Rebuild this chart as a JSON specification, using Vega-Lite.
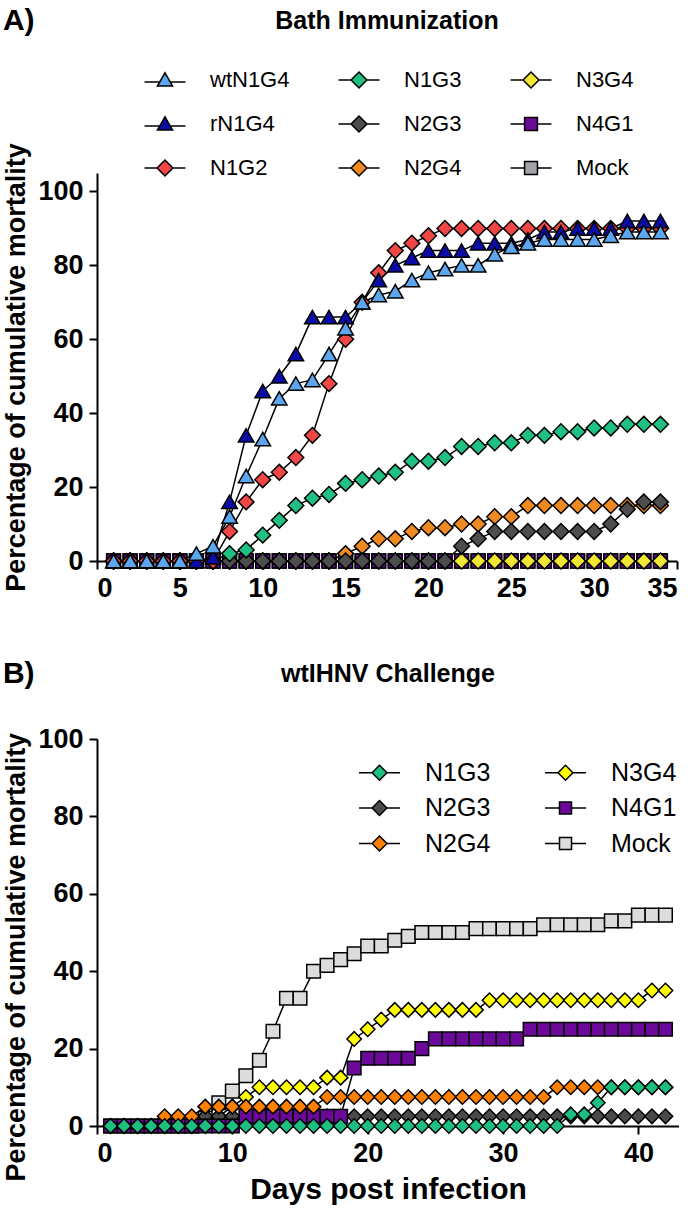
{
  "$schema": "https://vega.github.io/schema/vega-lite/v6.json",
  "padding": {"top": 6, "left": 2, "right": 0, "bottom": 2},
  "background": "white",
  "config": {
    "font": "Liberation Sans",
    "view": {"stroke": null},
    "axis": {"grid": false, "domainColor": "black", "domainWidth": 2, "tickColor": "black", "tickWidth": 2, "tickSize": 8,
      "labelFont": "Liberation Sans", "labelFontWeight": "bold", "labelFontSize": 27, "labelColor": "black", "labelPadding": 6,
      "titleFont": "Liberation Sans", "titleFontWeight": "bold", "titleFontSize": 27, "titleColor": "black"},
    "title": {"font": "Liberation Sans", "fontSize": 25, "fontWeight": "bold", "color": "black"},
    "legend": {"labelFont": "Liberation Sans", "labelColor": "black", "title": null, "symbolStrokeColor": "black", "symbolStrokeWidth": 1.5}
  },
  "datasets": {
    "a": [
      {"s":"Mock","d":1,"v":0},{"s":"Mock","d":2,"v":0},{"s":"Mock","d":3,"v":0},{"s":"Mock","d":4,"v":0},{"s":"Mock","d":5,"v":0},{"s":"Mock","d":6,"v":0},{"s":"Mock","d":7,"v":0},{"s":"Mock","d":8,"v":0},{"s":"Mock","d":9,"v":0},{"s":"Mock","d":10,"v":0},{"s":"Mock","d":11,"v":0},{"s":"Mock","d":12,"v":0},{"s":"Mock","d":13,"v":0},{"s":"Mock","d":14,"v":0},{"s":"Mock","d":15,"v":0},{"s":"Mock","d":16,"v":0},{"s":"Mock","d":17,"v":0},{"s":"Mock","d":18,"v":0},{"s":"Mock","d":19,"v":0},{"s":"Mock","d":20,"v":0},{"s":"Mock","d":21,"v":0},{"s":"Mock","d":22,"v":0},{"s":"Mock","d":23,"v":0},{"s":"Mock","d":24,"v":0},{"s":"Mock","d":25,"v":0},{"s":"Mock","d":26,"v":0},{"s":"Mock","d":27,"v":0},{"s":"Mock","d":28,"v":0},{"s":"Mock","d":29,"v":0},{"s":"Mock","d":30,"v":0},{"s":"Mock","d":31,"v":0},{"s":"Mock","d":32,"v":0},{"s":"Mock","d":33,"v":0},{"s":"Mock","d":34,"v":0},
      {"s":"N4G1","d":1,"v":0},{"s":"N4G1","d":2,"v":0},{"s":"N4G1","d":3,"v":0},{"s":"N4G1","d":4,"v":0},{"s":"N4G1","d":5,"v":0},{"s":"N4G1","d":6,"v":0},{"s":"N4G1","d":7,"v":0},{"s":"N4G1","d":8,"v":0},{"s":"N4G1","d":9,"v":0},{"s":"N4G1","d":10,"v":0},{"s":"N4G1","d":11,"v":0},{"s":"N4G1","d":12,"v":0},{"s":"N4G1","d":13,"v":0},{"s":"N4G1","d":14,"v":0},{"s":"N4G1","d":15,"v":0},{"s":"N4G1","d":16,"v":0},{"s":"N4G1","d":17,"v":0},{"s":"N4G1","d":18,"v":0},{"s":"N4G1","d":19,"v":0},{"s":"N4G1","d":20,"v":0},{"s":"N4G1","d":21,"v":0},{"s":"N4G1","d":22,"v":0},{"s":"N4G1","d":23,"v":0},{"s":"N4G1","d":24,"v":0},{"s":"N4G1","d":25,"v":0},{"s":"N4G1","d":26,"v":0},{"s":"N4G1","d":27,"v":0},{"s":"N4G1","d":28,"v":0},{"s":"N4G1","d":29,"v":0},{"s":"N4G1","d":30,"v":0},{"s":"N4G1","d":31,"v":0},{"s":"N4G1","d":32,"v":0},{"s":"N4G1","d":33,"v":0},{"s":"N4G1","d":34,"v":0},
      {"s":"N3G4","d":1,"v":0},{"s":"N3G4","d":2,"v":0},{"s":"N3G4","d":3,"v":0},{"s":"N3G4","d":4,"v":0},{"s":"N3G4","d":5,"v":0},{"s":"N3G4","d":6,"v":0},{"s":"N3G4","d":7,"v":0},{"s":"N3G4","d":8,"v":0},{"s":"N3G4","d":9,"v":0},{"s":"N3G4","d":10,"v":0},{"s":"N3G4","d":11,"v":0},{"s":"N3G4","d":12,"v":0},{"s":"N3G4","d":13,"v":0},{"s":"N3G4","d":14,"v":0},{"s":"N3G4","d":15,"v":0},{"s":"N3G4","d":16,"v":0},{"s":"N3G4","d":17,"v":0},{"s":"N3G4","d":18,"v":0},{"s":"N3G4","d":19,"v":0},{"s":"N3G4","d":20,"v":0},{"s":"N3G4","d":21,"v":0},{"s":"N3G4","d":22,"v":0},{"s":"N3G4","d":23,"v":0},{"s":"N3G4","d":24,"v":0},{"s":"N3G4","d":25,"v":0},{"s":"N3G4","d":26,"v":0},{"s":"N3G4","d":27,"v":0},{"s":"N3G4","d":28,"v":0},{"s":"N3G4","d":29,"v":0},{"s":"N3G4","d":30,"v":0},{"s":"N3G4","d":31,"v":0},{"s":"N3G4","d":32,"v":0},{"s":"N3G4","d":33,"v":0},{"s":"N3G4","d":34,"v":0},
      {"s":"N2G4","d":1,"v":0},{"s":"N2G4","d":2,"v":0},{"s":"N2G4","d":3,"v":0},{"s":"N2G4","d":4,"v":0},{"s":"N2G4","d":5,"v":0},{"s":"N2G4","d":6,"v":0},{"s":"N2G4","d":7,"v":0},{"s":"N2G4","d":8,"v":0},{"s":"N2G4","d":9,"v":0},{"s":"N2G4","d":10,"v":0},{"s":"N2G4","d":11,"v":0},{"s":"N2G4","d":12,"v":0},{"s":"N2G4","d":13,"v":0},{"s":"N2G4","d":14,"v":0},{"s":"N2G4","d":15,"v":2},{"s":"N2G4","d":16,"v":4},{"s":"N2G4","d":17,"v":6},{"s":"N2G4","d":18,"v":6},{"s":"N2G4","d":19,"v":8},{"s":"N2G4","d":20,"v":9},{"s":"N2G4","d":21,"v":9},{"s":"N2G4","d":22,"v":10},{"s":"N2G4","d":23,"v":10},{"s":"N2G4","d":24,"v":12},{"s":"N2G4","d":25,"v":12},{"s":"N2G4","d":26,"v":15},{"s":"N2G4","d":27,"v":15},{"s":"N2G4","d":28,"v":15},{"s":"N2G4","d":29,"v":15},{"s":"N2G4","d":30,"v":15},{"s":"N2G4","d":31,"v":15},{"s":"N2G4","d":32,"v":15},{"s":"N2G4","d":33,"v":15},{"s":"N2G4","d":34,"v":15},
      {"s":"N2G3","d":1,"v":0},{"s":"N2G3","d":2,"v":0},{"s":"N2G3","d":3,"v":0},{"s":"N2G3","d":4,"v":0},{"s":"N2G3","d":5,"v":0},{"s":"N2G3","d":6,"v":0},{"s":"N2G3","d":7,"v":0},{"s":"N2G3","d":8,"v":0},{"s":"N2G3","d":9,"v":0},{"s":"N2G3","d":10,"v":0},{"s":"N2G3","d":11,"v":0},{"s":"N2G3","d":12,"v":0},{"s":"N2G3","d":13,"v":0},{"s":"N2G3","d":14,"v":0},{"s":"N2G3","d":15,"v":0},{"s":"N2G3","d":16,"v":0},{"s":"N2G3","d":17,"v":0},{"s":"N2G3","d":18,"v":0},{"s":"N2G3","d":19,"v":0},{"s":"N2G3","d":20,"v":0},{"s":"N2G3","d":21,"v":0},{"s":"N2G3","d":22,"v":4},{"s":"N2G3","d":23,"v":6},{"s":"N2G3","d":24,"v":8},{"s":"N2G3","d":25,"v":8},{"s":"N2G3","d":26,"v":8},{"s":"N2G3","d":27,"v":8},{"s":"N2G3","d":28,"v":8},{"s":"N2G3","d":29,"v":8},{"s":"N2G3","d":30,"v":8},{"s":"N2G3","d":31,"v":10},{"s":"N2G3","d":32,"v":14},{"s":"N2G3","d":33,"v":16},{"s":"N2G3","d":34,"v":16},
      {"s":"N1G3","d":1,"v":0},{"s":"N1G3","d":2,"v":0},{"s":"N1G3","d":3,"v":0},{"s":"N1G3","d":4,"v":0},{"s":"N1G3","d":5,"v":0},{"s":"N1G3","d":6,"v":0},{"s":"N1G3","d":7,"v":0},{"s":"N1G3","d":8,"v":2},{"s":"N1G3","d":9,"v":3},{"s":"N1G3","d":10,"v":7},{"s":"N1G3","d":11,"v":11},{"s":"N1G3","d":12,"v":15},{"s":"N1G3","d":13,"v":17},{"s":"N1G3","d":14,"v":18},{"s":"N1G3","d":15,"v":21},{"s":"N1G3","d":16,"v":22},{"s":"N1G3","d":17,"v":23},{"s":"N1G3","d":18,"v":24},{"s":"N1G3","d":19,"v":27},{"s":"N1G3","d":20,"v":27},{"s":"N1G3","d":21,"v":28},{"s":"N1G3","d":22,"v":31},{"s":"N1G3","d":23,"v":31},{"s":"N1G3","d":24,"v":32},{"s":"N1G3","d":25,"v":32},{"s":"N1G3","d":26,"v":34},{"s":"N1G3","d":27,"v":34},{"s":"N1G3","d":28,"v":35},{"s":"N1G3","d":29,"v":35},{"s":"N1G3","d":30,"v":36},{"s":"N1G3","d":31,"v":36},{"s":"N1G3","d":32,"v":37},{"s":"N1G3","d":33,"v":37},{"s":"N1G3","d":34,"v":37},
      {"s":"N1G2","d":1,"v":0},{"s":"N1G2","d":2,"v":0},{"s":"N1G2","d":3,"v":0},{"s":"N1G2","d":4,"v":0},{"s":"N1G2","d":5,"v":0},{"s":"N1G2","d":6,"v":0},{"s":"N1G2","d":7,"v":0},{"s":"N1G2","d":8,"v":8},{"s":"N1G2","d":9,"v":16},{"s":"N1G2","d":10,"v":22},{"s":"N1G2","d":11,"v":24},{"s":"N1G2","d":12,"v":28},{"s":"N1G2","d":13,"v":34},{"s":"N1G2","d":14,"v":48},{"s":"N1G2","d":15,"v":60},{"s":"N1G2","d":16,"v":70},{"s":"N1G2","d":17,"v":78},{"s":"N1G2","d":18,"v":84},{"s":"N1G2","d":19,"v":86},{"s":"N1G2","d":20,"v":88},{"s":"N1G2","d":21,"v":90},{"s":"N1G2","d":22,"v":90},{"s":"N1G2","d":23,"v":90},{"s":"N1G2","d":24,"v":90},{"s":"N1G2","d":25,"v":90},{"s":"N1G2","d":26,"v":90},{"s":"N1G2","d":27,"v":90},{"s":"N1G2","d":28,"v":90},{"s":"N1G2","d":29,"v":90},{"s":"N1G2","d":30,"v":90},{"s":"N1G2","d":31,"v":90},{"s":"N1G2","d":32,"v":90},{"s":"N1G2","d":33,"v":90},{"s":"N1G2","d":34,"v":90},
      {"s":"rN1G4","d":1,"v":0},{"s":"rN1G4","d":2,"v":0},{"s":"rN1G4","d":3,"v":0},{"s":"rN1G4","d":4,"v":0},{"s":"rN1G4","d":5,"v":0},{"s":"rN1G4","d":6,"v":0},{"s":"rN1G4","d":7,"v":1},{"s":"rN1G4","d":8,"v":16},{"s":"rN1G4","d":9,"v":34},{"s":"rN1G4","d":10,"v":46},{"s":"rN1G4","d":11,"v":50},{"s":"rN1G4","d":12,"v":56},{"s":"rN1G4","d":13,"v":66},{"s":"rN1G4","d":14,"v":66},{"s":"rN1G4","d":15,"v":66},{"s":"rN1G4","d":16,"v":70},{"s":"rN1G4","d":17,"v":76},{"s":"rN1G4","d":18,"v":80},{"s":"rN1G4","d":19,"v":82},{"s":"rN1G4","d":20,"v":84},{"s":"rN1G4","d":21,"v":84},{"s":"rN1G4","d":22,"v":84},{"s":"rN1G4","d":23,"v":86},{"s":"rN1G4","d":24,"v":86},{"s":"rN1G4","d":25,"v":86},{"s":"rN1G4","d":26,"v":87},{"s":"rN1G4","d":27,"v":89},{"s":"rN1G4","d":28,"v":89},{"s":"rN1G4","d":29,"v":90},{"s":"rN1G4","d":30,"v":90},{"s":"rN1G4","d":31,"v":90},{"s":"rN1G4","d":32,"v":92},{"s":"rN1G4","d":33,"v":92},{"s":"rN1G4","d":34,"v":92},
      {"s":"wtN1G4","d":1,"v":0},{"s":"wtN1G4","d":2,"v":0},{"s":"wtN1G4","d":3,"v":0},{"s":"wtN1G4","d":4,"v":0},{"s":"wtN1G4","d":5,"v":0},{"s":"wtN1G4","d":6,"v":2},{"s":"wtN1G4","d":7,"v":4},{"s":"wtN1G4","d":8,"v":12},{"s":"wtN1G4","d":9,"v":23},{"s":"wtN1G4","d":10,"v":33},{"s":"wtN1G4","d":11,"v":44},{"s":"wtN1G4","d":12,"v":48},{"s":"wtN1G4","d":13,"v":49},{"s":"wtN1G4","d":14,"v":56},{"s":"wtN1G4","d":15,"v":63},{"s":"wtN1G4","d":16,"v":70},{"s":"wtN1G4","d":17,"v":72},{"s":"wtN1G4","d":18,"v":73},{"s":"wtN1G4","d":19,"v":76},{"s":"wtN1G4","d":20,"v":78},{"s":"wtN1G4","d":21,"v":79},{"s":"wtN1G4","d":22,"v":80},{"s":"wtN1G4","d":23,"v":80},{"s":"wtN1G4","d":24,"v":83},{"s":"wtN1G4","d":25,"v":85},{"s":"wtN1G4","d":26,"v":86},{"s":"wtN1G4","d":27,"v":87},{"s":"wtN1G4","d":28,"v":87},{"s":"wtN1G4","d":29,"v":87},{"s":"wtN1G4","d":30,"v":87},{"s":"wtN1G4","d":31,"v":88},{"s":"wtN1G4","d":32,"v":89},{"s":"wtN1G4","d":33,"v":89},{"s":"wtN1G4","d":34,"v":89}
    ],
    "b": [
      {"s":"Mock","d":1,"v":0},{"s":"Mock","d":2,"v":0},{"s":"Mock","d":3,"v":0},{"s":"Mock","d":4,"v":0},{"s":"Mock","d":5,"v":0},{"s":"Mock","d":6,"v":0},{"s":"Mock","d":7,"v":0},{"s":"Mock","d":8,"v":2},{"s":"Mock","d":9,"v":6},{"s":"Mock","d":10,"v":9},{"s":"Mock","d":11,"v":13},{"s":"Mock","d":12,"v":17},{"s":"Mock","d":13,"v":24.5},{"s":"Mock","d":14,"v":33},{"s":"Mock","d":15,"v":33},{"s":"Mock","d":16,"v":40},{"s":"Mock","d":17,"v":41.5},{"s":"Mock","d":18,"v":43},{"s":"Mock","d":19,"v":44.5},{"s":"Mock","d":20,"v":46.5},{"s":"Mock","d":21,"v":46.5},{"s":"Mock","d":22,"v":48},{"s":"Mock","d":23,"v":49},{"s":"Mock","d":24,"v":50},{"s":"Mock","d":25,"v":50},{"s":"Mock","d":26,"v":50},{"s":"Mock","d":27,"v":50},{"s":"Mock","d":28,"v":51},{"s":"Mock","d":29,"v":51},{"s":"Mock","d":30,"v":51},{"s":"Mock","d":31,"v":51},{"s":"Mock","d":32,"v":51},{"s":"Mock","d":33,"v":52},{"s":"Mock","d":34,"v":52},{"s":"Mock","d":35,"v":52},{"s":"Mock","d":36,"v":52},{"s":"Mock","d":37,"v":52},{"s":"Mock","d":38,"v":53},{"s":"Mock","d":39,"v":53},{"s":"Mock","d":40,"v":54.5},{"s":"Mock","d":41,"v":54.5},{"s":"Mock","d":42,"v":54.5},
      {"s":"N3G4","d":1,"v":0},{"s":"N3G4","d":2,"v":0},{"s":"N3G4","d":3,"v":0},{"s":"N3G4","d":4,"v":0},{"s":"N3G4","d":5,"v":0},{"s":"N3G4","d":6,"v":0},{"s":"N3G4","d":7,"v":0},{"s":"N3G4","d":8,"v":0},{"s":"N3G4","d":9,"v":2.5},{"s":"N3G4","d":10,"v":5},{"s":"N3G4","d":11,"v":7.5},{"s":"N3G4","d":12,"v":10},{"s":"N3G4","d":13,"v":10},{"s":"N3G4","d":14,"v":10},{"s":"N3G4","d":15,"v":10},{"s":"N3G4","d":16,"v":10},{"s":"N3G4","d":17,"v":12.5},{"s":"N3G4","d":18,"v":12.5},{"s":"N3G4","d":19,"v":22.5},{"s":"N3G4","d":20,"v":25},{"s":"N3G4","d":21,"v":27.5},{"s":"N3G4","d":22,"v":30},{"s":"N3G4","d":23,"v":30},{"s":"N3G4","d":24,"v":30},{"s":"N3G4","d":25,"v":30},{"s":"N3G4","d":26,"v":30},{"s":"N3G4","d":27,"v":30},{"s":"N3G4","d":28,"v":30},{"s":"N3G4","d":29,"v":32.5},{"s":"N3G4","d":30,"v":32.5},{"s":"N3G4","d":31,"v":32.5},{"s":"N3G4","d":32,"v":32.5},{"s":"N3G4","d":33,"v":32.5},{"s":"N3G4","d":34,"v":32.5},{"s":"N3G4","d":35,"v":32.5},{"s":"N3G4","d":36,"v":32.5},{"s":"N3G4","d":37,"v":32.5},{"s":"N3G4","d":38,"v":32.5},{"s":"N3G4","d":39,"v":32.5},{"s":"N3G4","d":40,"v":32.5},{"s":"N3G4","d":41,"v":35},{"s":"N3G4","d":42,"v":35},
      {"s":"N2G3","d":1,"v":0},{"s":"N2G3","d":2,"v":0},{"s":"N2G3","d":3,"v":0},{"s":"N2G3","d":4,"v":0},{"s":"N2G3","d":5,"v":0},{"s":"N2G3","d":6,"v":0},{"s":"N2G3","d":7,"v":0},{"s":"N2G3","d":8,"v":2.5},{"s":"N2G3","d":9,"v":2.5},{"s":"N2G3","d":10,"v":2.5},{"s":"N2G3","d":11,"v":2.5},{"s":"N2G3","d":12,"v":2.5},{"s":"N2G3","d":13,"v":2.5},{"s":"N2G3","d":14,"v":2.5},{"s":"N2G3","d":15,"v":2.5},{"s":"N2G3","d":16,"v":2.5},{"s":"N2G3","d":17,"v":2.5},{"s":"N2G3","d":18,"v":2.5},{"s":"N2G3","d":19,"v":2.5},{"s":"N2G3","d":20,"v":2.5},{"s":"N2G3","d":21,"v":2.5},{"s":"N2G3","d":22,"v":2.5},{"s":"N2G3","d":23,"v":2.5},{"s":"N2G3","d":24,"v":2.5},{"s":"N2G3","d":25,"v":2.5},{"s":"N2G3","d":26,"v":2.5},{"s":"N2G3","d":27,"v":2.5},{"s":"N2G3","d":28,"v":2.5},{"s":"N2G3","d":29,"v":2.5},{"s":"N2G3","d":30,"v":2.5},{"s":"N2G3","d":31,"v":2.5},{"s":"N2G3","d":32,"v":2.5},{"s":"N2G3","d":33,"v":2.5},{"s":"N2G3","d":34,"v":2.5},{"s":"N2G3","d":35,"v":2.5},{"s":"N2G3","d":36,"v":2.5},{"s":"N2G3","d":37,"v":2.5},{"s":"N2G3","d":38,"v":2.5},{"s":"N2G3","d":39,"v":2.5},{"s":"N2G3","d":40,"v":2.5},{"s":"N2G3","d":41,"v":2.5},{"s":"N2G3","d":42,"v":2.5},
      {"s":"N4G1","d":1,"v":0},{"s":"N4G1","d":2,"v":0},{"s":"N4G1","d":3,"v":0},{"s":"N4G1","d":4,"v":0},{"s":"N4G1","d":5,"v":0},{"s":"N4G1","d":6,"v":0},{"s":"N4G1","d":7,"v":0},{"s":"N4G1","d":8,"v":0},{"s":"N4G1","d":9,"v":0},{"s":"N4G1","d":10,"v":0},{"s":"N4G1","d":11,"v":2.5},{"s":"N4G1","d":12,"v":2.5},{"s":"N4G1","d":13,"v":2.5},{"s":"N4G1","d":14,"v":2.5},{"s":"N4G1","d":15,"v":2.5},{"s":"N4G1","d":16,"v":2.5},{"s":"N4G1","d":17,"v":2.5},{"s":"N4G1","d":18,"v":2.5},{"s":"N4G1","d":19,"v":15},{"s":"N4G1","d":20,"v":17.5},{"s":"N4G1","d":21,"v":17.5},{"s":"N4G1","d":22,"v":17.5},{"s":"N4G1","d":23,"v":17.5},{"s":"N4G1","d":24,"v":20},{"s":"N4G1","d":25,"v":22.5},{"s":"N4G1","d":26,"v":22.5},{"s":"N4G1","d":27,"v":22.5},{"s":"N4G1","d":28,"v":22.5},{"s":"N4G1","d":29,"v":22.5},{"s":"N4G1","d":30,"v":22.5},{"s":"N4G1","d":31,"v":22.5},{"s":"N4G1","d":32,"v":25},{"s":"N4G1","d":33,"v":25},{"s":"N4G1","d":34,"v":25},{"s":"N4G1","d":35,"v":25},{"s":"N4G1","d":36,"v":25},{"s":"N4G1","d":37,"v":25},{"s":"N4G1","d":38,"v":25},{"s":"N4G1","d":39,"v":25},{"s":"N4G1","d":40,"v":25},{"s":"N4G1","d":41,"v":25},{"s":"N4G1","d":42,"v":25},
      {"s":"N2G4","d":1,"v":0},{"s":"N2G4","d":2,"v":0},{"s":"N2G4","d":3,"v":0},{"s":"N2G4","d":4,"v":0},{"s":"N2G4","d":5,"v":2.5},{"s":"N2G4","d":6,"v":2.5},{"s":"N2G4","d":7,"v":2.5},{"s":"N2G4","d":8,"v":5},{"s":"N2G4","d":9,"v":5},{"s":"N2G4","d":10,"v":5},{"s":"N2G4","d":11,"v":5},{"s":"N2G4","d":12,"v":5},{"s":"N2G4","d":13,"v":5},{"s":"N2G4","d":14,"v":5},{"s":"N2G4","d":15,"v":5},{"s":"N2G4","d":16,"v":5},{"s":"N2G4","d":17,"v":7.5},{"s":"N2G4","d":18,"v":7.5},{"s":"N2G4","d":19,"v":7.5},{"s":"N2G4","d":20,"v":7.5},{"s":"N2G4","d":21,"v":7.5},{"s":"N2G4","d":22,"v":7.5},{"s":"N2G4","d":23,"v":7.5},{"s":"N2G4","d":24,"v":7.5},{"s":"N2G4","d":25,"v":7.5},{"s":"N2G4","d":26,"v":7.5},{"s":"N2G4","d":27,"v":7.5},{"s":"N2G4","d":28,"v":7.5},{"s":"N2G4","d":29,"v":7.5},{"s":"N2G4","d":30,"v":7.5},{"s":"N2G4","d":31,"v":7.5},{"s":"N2G4","d":32,"v":7.5},{"s":"N2G4","d":33,"v":7.5},{"s":"N2G4","d":34,"v":10},{"s":"N2G4","d":35,"v":10},{"s":"N2G4","d":36,"v":10},{"s":"N2G4","d":37,"v":10},{"s":"N2G4","d":38,"v":10},{"s":"N2G4","d":39,"v":10},{"s":"N2G4","d":40,"v":10},{"s":"N2G4","d":41,"v":10},{"s":"N2G4","d":42,"v":10},
      {"s":"N1G3","d":1,"v":0},{"s":"N1G3","d":2,"v":0},{"s":"N1G3","d":3,"v":0},{"s":"N1G3","d":4,"v":0},{"s":"N1G3","d":5,"v":0},{"s":"N1G3","d":6,"v":0},{"s":"N1G3","d":7,"v":0},{"s":"N1G3","d":8,"v":0},{"s":"N1G3","d":9,"v":0},{"s":"N1G3","d":10,"v":0},{"s":"N1G3","d":11,"v":0},{"s":"N1G3","d":12,"v":0},{"s":"N1G3","d":13,"v":0},{"s":"N1G3","d":14,"v":0},{"s":"N1G3","d":15,"v":0},{"s":"N1G3","d":16,"v":0},{"s":"N1G3","d":17,"v":0},{"s":"N1G3","d":18,"v":0},{"s":"N1G3","d":19,"v":0},{"s":"N1G3","d":20,"v":0},{"s":"N1G3","d":21,"v":0},{"s":"N1G3","d":22,"v":0},{"s":"N1G3","d":23,"v":0},{"s":"N1G3","d":24,"v":0},{"s":"N1G3","d":25,"v":0},{"s":"N1G3","d":26,"v":0},{"s":"N1G3","d":27,"v":0},{"s":"N1G3","d":28,"v":0},{"s":"N1G3","d":29,"v":0},{"s":"N1G3","d":30,"v":0},{"s":"N1G3","d":31,"v":0},{"s":"N1G3","d":32,"v":0},{"s":"N1G3","d":33,"v":0},{"s":"N1G3","d":34,"v":0},{"s":"N1G3","d":35,"v":3},{"s":"N1G3","d":36,"v":3},{"s":"N1G3","d":37,"v":6},{"s":"N1G3","d":38,"v":10},{"s":"N1G3","d":39,"v":10},{"s":"N1G3","d":40,"v":10},{"s":"N1G3","d":41,"v":10},{"s":"N1G3","d":42,"v":10}
    ]
  },
  "spacing": 58,
  "vconcat": [
    {
      "title": {"text": "A)", "anchor": "start", "frame": "bounds", "fontSize": 30, "offset": -27},
      "vconcat": [
        {
          "width": 580, "height": 388,
          "title": {"text": "Bath Immunization", "offset": 35},
          "data": {"name": "a"},
          "encoding": {
            "x": {"field": "d", "type": "quantitative", "scale": {"domain": [0, 35], "nice": false, "zero": false}, "axis": {"values": [0, 5, 10, 15, 20, 25, 30, 35], "title": null}},
            "y": {"field": "v", "type": "quantitative", "scale": {"domain": [0, 105], "nice": false}, "axis": {"values": [0, 20, 40, 60, 80, 100], "title": "Percentage of cumulative mortality", "titlePadding": 7}}
          },
          "layer": [
            {"mark": {"type": "line", "color": "black", "strokeWidth": 1.5}, "encoding": {"detail": {"field": "s"}}},
            {"transform": [{"filter": {"field": "s", "oneOf": ["Mock", "N4G1"]}}],
             "mark": {"type": "point", "shape": "square", "size": 190, "filled": true, "opacity": 1, "stroke": "black", "strokeWidth": 1.5},
             "encoding": {"color": {"field": "s", "type": "nominal", "legend": null, "scale": {"domain": ["wtN1G4", "rN1G4", "N1G2", "N1G3", "N2G3", "N2G4", "N3G4", "N4G1", "Mock"], "range": ["#5ba6ee", "#0b0ba6", "#f04646", "#20c082", "#4d4d4d", "#ef8a22", "#eee734", "#6a0a98", "#a2a2a8"]}}}},
            {"transform": [{"filter": {"field": "s", "oneOf": ["N3G4", "N2G4", "N2G3", "N1G3", "N1G2"]}}],
             "mark": {"type": "point", "shape": "diamond", "size": 250, "filled": true, "opacity": 1, "stroke": "black", "strokeWidth": 1.5},
             "encoding": {"color": {"field": "s", "type": "nominal", "legend": null, "scale": {"domain": ["wtN1G4", "rN1G4", "N1G2", "N1G3", "N2G3", "N2G4", "N3G4", "N4G1", "Mock"], "range": ["#5ba6ee", "#0b0ba6", "#f04646", "#20c082", "#4d4d4d", "#ef8a22", "#eee734", "#6a0a98", "#a2a2a8"]}}}},
            {"transform": [{"filter": {"field": "s", "oneOf": ["rN1G4", "wtN1G4"]}}],
             "mark": {"type": "point", "shape": "triangle-up", "size": 240, "filled": true, "opacity": 1, "stroke": "black", "strokeWidth": 1.5},
             "encoding": {"color": {"field": "s", "type": "nominal", "legend": null, "scale": {"domain": ["wtN1G4", "rN1G4", "N1G2", "N1G3", "N2G3", "N2G4", "N3G4", "N4G1", "Mock"], "range": ["#5ba6ee", "#0b0ba6", "#f04646", "#20c082", "#4d4d4d", "#ef8a22", "#eee734", "#6a0a98", "#a2a2a8"]}}}},
            {"mark": {"type": "point", "filled": true, "opacity": 0, "strokeWidth": 1.5},
             "encoding": {
               "shape": {"field": "s", "type": "nominal",
                 "scale": {"domain": ["wtN1G4", "rN1G4", "N1G2", "N1G3", "N2G3", "N2G4", "N3G4", "N4G1", "Mock"],
                   "range": ["M-2.7,0.25L-0.69,0.25M0.69,0.25L2.7,0.25M0,-0.95L1,0.8L-1,0.8Z", "M-2.7,0.25L-0.69,0.25M0.69,0.25L2.7,0.25M0,-0.95L1,0.8L-1,0.8Z", "M-2.7,0L-1.05,0M1.05,0L2.7,0M0,-1.05L1.05,0L0,1.05L-1.05,0Z", "M-2.7,0L-1.05,0M1.05,0L2.7,0M0,-1.05L1.05,0L0,1.05L-1.05,0Z", "M-2.7,0L-1.05,0M1.05,0L2.7,0M0,-1.05L1.05,0L0,1.05L-1.05,0Z", "M-2.7,0L-1.05,0M1.05,0L2.7,0M0,-1.05L1.05,0L0,1.05L-1.05,0Z", "M-2.7,0L-1.05,0M1.05,0L2.7,0M0,-1.05L1.05,0L0,1.05L-1.05,0Z", "M-2.7,0L-0.85,0M0.85,0L2.7,0M-0.85,-0.85L0.85,-0.85L0.85,0.85L-0.85,0.85Z", "M-2.7,0L-0.85,0M0.85,0L2.7,0M-0.85,-0.85L0.85,-0.85L0.85,0.85L-0.85,0.85Z"]},
                 "legend": {"orient": "none", "legendX": 57, "legendY": -104, "columns": 3, "title": null, "symbolSize": 230, "symbolStrokeWidth": 1.5, "symbolOpacity": 1, "labelFontSize": 22, "labelOffset": 34, "columnPadding": 45, "rowPadding": 22, "labelLimit": 300}},
               "fill": {"field": "s", "type": "nominal",
                 "scale": {"domain": ["wtN1G4", "rN1G4", "N1G2", "N1G3", "N2G3", "N2G4", "N3G4", "N4G1", "Mock"],
                   "range": ["#5ba6ee", "#0b0ba6", "#f04646", "#20c082", "#4d4d4d", "#ef8a22", "#eee734", "#6a0a98", "#a2a2a8"]},
                 "legend": {"orient": "none", "legendX": 57, "legendY": -104, "columns": 3, "title": null, "symbolSize": 230, "symbolStrokeWidth": 1.5, "symbolOpacity": 1, "labelFontSize": 22, "labelOffset": 34, "columnPadding": 45, "rowPadding": 22, "labelLimit": 300}},
               "stroke": {"field": "s", "type": "nominal",
                 "scale": {"domain": ["wtN1G4", "rN1G4", "N1G2", "N1G3", "N2G3", "N2G4", "N3G4", "N4G1", "Mock"],
                   "range": ["black", "black", "black", "black", "black", "black", "black", "black", "black"]},
                 "legend": {"orient": "none", "legendX": 57, "legendY": -104, "columns": 3, "title": null, "symbolSize": 230, "symbolStrokeWidth": 1.5, "symbolOpacity": 1, "labelFontSize": 22, "labelOffset": 34, "columnPadding": 45, "rowPadding": 22, "labelLimit": 300}}
             }}
          ],
          "resolve": {"scale": {"color": "independent", "fill": "independent", "shape": "independent", "stroke": "independent"}}
        }
      ]
    },
    {
      "title": {"text": "B)", "anchor": "start", "frame": "bounds", "fontSize": 30, "offset": -27},
      "vconcat": [
        {
          "width": 582, "height": 387,
          "title": {"text": "wtIHNV Challenge", "offset": 38},
          "data": {"name": "b"},
          "encoding": {
            "x": {"field": "d", "type": "quantitative", "scale": {"domain": [0, 43], "nice": false, "zero": false}, "axis": {"values": [0, 10, 20, 30, 40], "title": "Days post infection", "titleFontSize": 30, "titlePadding": 8}},
            "y": {"field": "v", "type": "quantitative", "scale": {"domain": [0, 100], "nice": false}, "axis": {"values": [0, 20, 40, 60, 80, 100], "title": "Percentage of cumulative mortality", "titlePadding": 7, "titleY": 442, "titleAlign": "left"}}
          },
          "layer": [
            {"mark": {"type": "line", "color": "black", "strokeWidth": 1.5}, "encoding": {"detail": {"field": "s"}}},
            {"transform": [{"filter": {"field": "s", "oneOf": ["Mock"]}}],
             "mark": {"type": "point", "shape": "square", "size": 185, "filled": true, "opacity": 1, "stroke": "black", "strokeWidth": 1.5},
             "encoding": {"color": {"field": "s", "type": "nominal", "legend": null, "scale": {"domain": ["N1G3", "N2G3", "N2G4", "N3G4", "N4G1", "Mock"], "range": ["#1dbf80", "#4a4a4a", "#ff7f00", "#ffff00", "#6b0a9a", "#dcdcdc"]}}}},
            {"transform": [{"filter": {"field": "s", "oneOf": ["N3G4", "N2G3"]}}],
             "mark": {"type": "point", "shape": "diamond", "size": 210, "filled": true, "opacity": 1, "stroke": "black", "strokeWidth": 1.5},
             "encoding": {"color": {"field": "s", "type": "nominal", "legend": null, "scale": {"domain": ["N1G3", "N2G3", "N2G4", "N3G4", "N4G1", "Mock"], "range": ["#1dbf80", "#4a4a4a", "#ff7f00", "#ffff00", "#6b0a9a", "#dcdcdc"]}}}},
            {"transform": [{"filter": {"field": "s", "oneOf": ["N4G1"]}}],
             "mark": {"type": "point", "shape": "square", "size": 185, "filled": true, "opacity": 1, "stroke": "black", "strokeWidth": 1.5},
             "encoding": {"color": {"field": "s", "type": "nominal", "legend": null, "scale": {"domain": ["N1G3", "N2G3", "N2G4", "N3G4", "N4G1", "Mock"], "range": ["#1dbf80", "#4a4a4a", "#ff7f00", "#ffff00", "#6b0a9a", "#dcdcdc"]}}}},
            {"transform": [{"filter": {"field": "s", "oneOf": ["N2G4", "N1G3"]}}],
             "mark": {"type": "point", "shape": "diamond", "size": 210, "filled": true, "opacity": 1, "stroke": "black", "strokeWidth": 1.5},
             "encoding": {"color": {"field": "s", "type": "nominal", "legend": null, "scale": {"domain": ["N1G3", "N2G3", "N2G4", "N3G4", "N4G1", "Mock"], "range": ["#1dbf80", "#4a4a4a", "#ff7f00", "#ffff00", "#6b0a9a", "#dcdcdc"]}}}},
            {"mark": {"type": "point", "filled": true, "opacity": 0, "strokeWidth": 1.5},
             "encoding": {
               "shape": {"field": "s", "type": "nominal",
                 "scale": {"domain": ["N1G3", "N2G3", "N2G4", "N3G4", "N4G1", "Mock"],
                   "range": ["M-2.9,0L-1.05,0M1.05,0L2.9,0M0,-1.05L1.05,0L0,1.05L-1.05,0Z", "M-2.9,0L-1.05,0M1.05,0L2.9,0M0,-1.05L1.05,0L0,1.05L-1.05,0Z", "M-2.9,0L-1.05,0M1.05,0L2.9,0M0,-1.05L1.05,0L0,1.05L-1.05,0Z", "M-2.9,0L-1.05,0M1.05,0L2.9,0M0,-1.05L1.05,0L0,1.05L-1.05,0Z", "M-2.9,0L-0.85,0M0.85,0L2.9,0M-0.85,-0.85L0.85,-0.85L0.85,0.85L-0.85,0.85Z", "M-2.9,0L-0.85,0M0.85,0L2.9,0M-0.85,-0.85L0.85,-0.85L0.85,0.85L-0.85,0.85Z"]},
                 "legend": {"orient": "none", "legendX": 270, "legendY": 21, "columns": 2, "title": null, "symbolSize": 200, "symbolStrokeWidth": 1.5, "symbolOpacity": 1, "labelFontSize": 25, "labelOffset": 33, "columnPadding": 50, "rowPadding": 9.5, "labelLimit": 300}},
               "fill": {"field": "s", "type": "nominal",
                 "scale": {"domain": ["N1G3", "N2G3", "N2G4", "N3G4", "N4G1", "Mock"],
                   "range": ["#1dbf80", "#4a4a4a", "#ff7f00", "#ffff00", "#6b0a9a", "#dcdcdc"]},
                 "legend": {"orient": "none", "legendX": 270, "legendY": 21, "columns": 2, "title": null, "symbolSize": 200, "symbolStrokeWidth": 1.5, "symbolOpacity": 1, "labelFontSize": 25, "labelOffset": 33, "columnPadding": 50, "rowPadding": 9.5, "labelLimit": 300}},
               "stroke": {"field": "s", "type": "nominal",
                 "scale": {"domain": ["N1G3", "N2G3", "N2G4", "N3G4", "N4G1", "Mock"],
                   "range": ["black", "black", "black", "black", "black", "black"]},
                 "legend": {"orient": "none", "legendX": 270, "legendY": 21, "columns": 2, "title": null, "symbolSize": 200, "symbolStrokeWidth": 1.5, "symbolOpacity": 1, "labelFontSize": 25, "labelOffset": 33, "columnPadding": 50, "rowPadding": 9.5, "labelLimit": 300}}
             }}
          ],
          "resolve": {"scale": {"color": "independent", "fill": "independent", "shape": "independent", "stroke": "independent"}}
        }
      ]
    }
  ]
}
